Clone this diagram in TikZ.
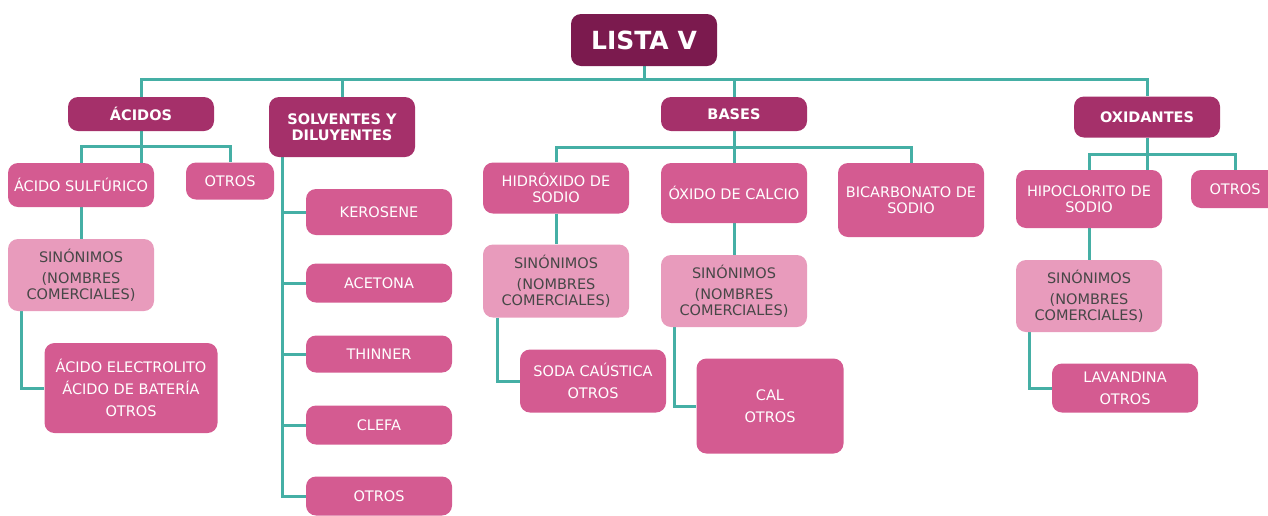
\documentclass[tikz,border=0pt]{standalone}
\usepackage{fontspec}
\setmainfont{DejaVu Sans}
\usetikzlibrary{positioning, backgrounds}

\definecolor{rootc}{HTML}{7B1A4E}
\definecolor{catc}{HTML}{A5306A}
\definecolor{itemc}{HTML}{D45B91}
\definecolor{sync}{HTML}{E89BBC}
\definecolor{syntext}{HTML}{474747}
\definecolor{linkc}{HTML}{45AFA5}

\begin{document}
\begin{tikzpicture}[x=1pt, y=-1pt, node distance = 71pt, on grid,
    box/.style = {rounded corners=10pt, inner sep=0pt, align=center,
                  minimum width=146pt, font=\fontsize{14.5}{16}\selectfont},
    root/.style = {box, fill=rootc, text=white, font=\bfseries\fontsize{25}{30}\selectfont},
    cat/.style = {box, fill=catc, text=white, font=\bfseries\fontsize{14.5}{16}\selectfont},
    item/.style = {box, fill=itemc, text=white},
    syn/.style = {box, fill=sync, text=syntext},
    link/.style = {draw=linkc, line width=3pt}]
  \useasboundingbox (0,0) rectangle (1268,515);

  % root and categories
  \node[root, minimum height=52pt] (lista) at (644,40) {LISTA V};
  \node[cat, minimum height=34pt] (acidos) at (141,114) {ÁCIDOS};
  \node[cat, minimum height=60pt] (solv) at (342,127) {SOLVENTES Y\\DILUYENTES};
  \node[cat, minimum height=34pt] (bases) at (734,114) {BASES};
  \node[cat, minimum height=41pt] (oxid) at (1147,117) {OXIDANTES};

  % acidos
  \node[item, minimum height=44pt] (sulf) at (81,185) {ÁCIDO SULFÚRICO};
  \node[item, minimum width=88pt, minimum height=37pt] (otrosA) at (230,181) {OTROS};
  \node[syn, minimum height=72pt] (synA) at (81,275) {SINÓNIMOS\\[5pt](NOMBRES\\COMERCIALES)};
  \node[item, minimum width=173pt, minimum height=90pt] (elec) at (131,388)
    {ÁCIDO ELECTROLITO\\[6pt]ÁCIDO DE BATERÍA\\[6pt]OTROS};

  % solventes
  \node[item, minimum height=46pt] (kero) at (379,212) {KEROSENE};
  \node[item, minimum height=39pt] (acet) [below=of kero] {ACETONA};
  \node[item, minimum height=37pt] (thin) [below=of acet] {THINNER};
  \node[item, minimum height=39pt] (clefa) [below=of thin] {CLEFA};
  \node[item, minimum height=39pt] (otrosS) [below=of clefa] {OTROS};

  % bases
  \node[item, minimum height=51pt] (hidr) at (556,188) {HIDRÓXIDO DE\\SODIO};
  \node[item, minimum height=60pt] (oxido) at (734,193) {ÓXIDO DE CALCIO};
  \node[item, minimum height=74pt] (bicar) at (911,200) {BICARBONATO DE\\SODIO};
  \node[syn, minimum height=73pt] (synH) at (556,281) {SINÓNIMOS\\[5pt](NOMBRES\\COMERCIALES)};
  \node[item, minimum height=63pt] (soda) at (593,381) {SODA CAÚSTICA\\[6pt]OTROS};
  \node[syn, minimum height=72pt] (synO) at (734,291) {SINÓNIMOS\\[5pt](NOMBRES\\COMERCIALES)};
  \node[item, minimum width=147pt, minimum height=95pt] (cal) at (770,406) {CAL\\[6pt]OTROS};

  % oxidantes
  \node[item, minimum height=58pt] (hipo) at (1089,199) {HIPOCLORITO DE\\SODIO};
  \node[item, minimum width=88pt, minimum height=38pt] (otrosO) at (1235,189) {OTROS};
  \node[syn, minimum height=72pt] (synC) at (1089,296) {SINÓNIMOS\\[5pt](NOMBRES\\COMERCIALES)};
  \node[item, minimum height=49pt] (lava) at (1125,388) {LAVANDINA\\[6pt]OTROS};

  % connectors
  \begin{scope}[on background layer]
  \draw[link] (lista.south) -- ++(0,14);
  \draw[link] (acidos.north) -- ++(0,-17) -| (oxid.north);
  \draw[link] (solv.north) -- ++(0,-17);
  \draw[link] (bases.north) -- ++(0,-17);

  \draw[link] (sulf.north) -- ++(0,-16) -| (otrosA.north);
  \draw[link] (acidos) -- (sulf.north -| acidos);
  \draw[link] (sulf) -- (synA);
  \draw[link] (synA.south west) ++(14,0) |- (elec.west);

  \foreach \n in {kero, acet, thin, clefa, otrosS}
    \draw[link] (solv.south west) ++(14,0) |- (\n.west);

  \draw[link] (hidr.north) -- ++(0,-15) -| (bicar.north);
  \draw[link] (bases) -- (oxido);
  \draw[link] (hidr) -- (synH);
  \draw[link] (synH.south west) ++(15,0) |- (soda.west);
  \draw[link] (oxido) -- (synO);
  \draw[link] (synO.south west) ++(14,0) |- (cal.west);

  \draw[link] (hipo.north) -- ++(0,-15) -| (otrosO.north);
  \draw[link] (oxid) -- (hipo.north -| oxid);
  \draw[link] (hipo) -- (synC);
  \draw[link] (synC.south west) ++(14,0) |- (lava.west);
  \end{scope}
\end{tikzpicture}
\end{document}
